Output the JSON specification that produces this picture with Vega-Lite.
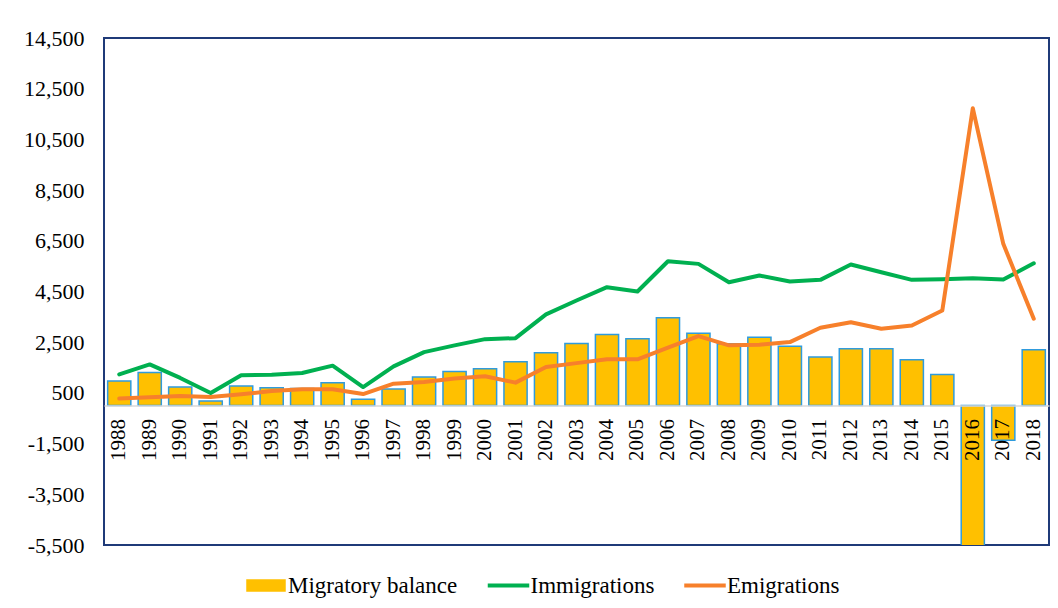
{
  "$schema": "https://vega.github.io/schema/vega-lite/v6.json",
  "width": 945,
  "height": 507,
  "autosize": {"type": "none"},
  "padding": {"left": 104, "top": 38, "right": 9, "bottom": 63},
  "background": "white",
  "config": {"font": "Liberation Serif, Times New Roman, serif", "view": {"stroke": "#1F3A78", "strokeWidth": 2}},
  "datasets": {
    "mig": [
      {"year": "1988", "series": "Migratory balance", "value": 970}, {"year": "1988", "series": "Immigrations", "value": 1230}, {"year": "1988", "series": "Emigrations", "value": 275},
      {"year": "1989", "series": "Migratory balance", "value": 1300}, {"year": "1989", "series": "Immigrations", "value": 1625}, {"year": "1989", "series": "Emigrations", "value": 325},
      {"year": "1990", "series": "Migratory balance", "value": 730}, {"year": "1990", "series": "Immigrations", "value": 1090}, {"year": "1990", "series": "Emigrations", "value": 380},
      {"year": "1991", "series": "Migratory balance", "value": 180}, {"year": "1991", "series": "Immigrations", "value": 495}, {"year": "1991", "series": "Emigrations", "value": 340},
      {"year": "1992", "series": "Migratory balance", "value": 770}, {"year": "1992", "series": "Immigrations", "value": 1195}, {"year": "1992", "series": "Emigrations", "value": 445},
      {"year": "1993", "series": "Migratory balance", "value": 700}, {"year": "1993", "series": "Immigrations", "value": 1220}, {"year": "1993", "series": "Emigrations", "value": 575},
      {"year": "1994", "series": "Migratory balance", "value": 670}, {"year": "1994", "series": "Immigrations", "value": 1285}, {"year": "1994", "series": "Emigrations", "value": 640},
      {"year": "1995", "series": "Migratory balance", "value": 905}, {"year": "1995", "series": "Immigrations", "value": 1575}, {"year": "1995", "series": "Emigrations", "value": 645},
      {"year": "1996", "series": "Migratory balance", "value": 250}, {"year": "1996", "series": "Immigrations", "value": 730}, {"year": "1996", "series": "Emigrations", "value": 455},
      {"year": "1997", "series": "Migratory balance", "value": 655}, {"year": "1997", "series": "Immigrations", "value": 1545}, {"year": "1997", "series": "Emigrations", "value": 865},
      {"year": "1998", "series": "Migratory balance", "value": 1125}, {"year": "1998", "series": "Immigrations", "value": 2110}, {"year": "1998", "series": "Emigrations", "value": 930},
      {"year": "1999", "series": "Migratory balance", "value": 1340}, {"year": "1999", "series": "Immigrations", "value": 2375}, {"year": "1999", "series": "Emigrations", "value": 1065},
      {"year": "2000", "series": "Migratory balance", "value": 1455}, {"year": "2000", "series": "Immigrations", "value": 2620}, {"year": "2000", "series": "Emigrations", "value": 1155},
      {"year": "2001", "series": "Migratory balance", "value": 1730}, {"year": "2001", "series": "Immigrations", "value": 2660}, {"year": "2001", "series": "Emigrations", "value": 905},
      {"year": "2002", "series": "Migratory balance", "value": 2085}, {"year": "2002", "series": "Immigrations", "value": 3595}, {"year": "2002", "series": "Emigrations", "value": 1520},
      {"year": "2003", "series": "Migratory balance", "value": 2450}, {"year": "2003", "series": "Immigrations", "value": 4145}, {"year": "2003", "series": "Emigrations", "value": 1675},
      {"year": "2004", "series": "Migratory balance", "value": 2805}, {"year": "2004", "series": "Immigrations", "value": 4670}, {"year": "2004", "series": "Emigrations", "value": 1825},
      {"year": "2005", "series": "Migratory balance", "value": 2640}, {"year": "2005", "series": "Immigrations", "value": 4500}, {"year": "2005", "series": "Emigrations", "value": 1825},
      {"year": "2006", "series": "Migratory balance", "value": 3465}, {"year": "2006", "series": "Immigrations", "value": 5695}, {"year": "2006", "series": "Emigrations", "value": 2285},
      {"year": "2007", "series": "Migratory balance", "value": 2855}, {"year": "2007", "series": "Immigrations", "value": 5590}, {"year": "2007", "series": "Emigrations", "value": 2740},
      {"year": "2008", "series": "Migratory balance", "value": 2440}, {"year": "2008", "series": "Immigrations", "value": 4865}, {"year": "2008", "series": "Emigrations", "value": 2375},
      {"year": "2009", "series": "Migratory balance", "value": 2700}, {"year": "2009", "series": "Immigrations", "value": 5130}, {"year": "2009", "series": "Emigrations", "value": 2400},
      {"year": "2010", "series": "Migratory balance", "value": 2345}, {"year": "2010", "series": "Immigrations", "value": 4895}, {"year": "2010", "series": "Emigrations", "value": 2505},
      {"year": "2011", "series": "Migratory balance", "value": 1915}, {"year": "2011", "series": "Immigrations", "value": 4960}, {"year": "2011", "series": "Emigrations", "value": 3070},
      {"year": "2012", "series": "Migratory balance", "value": 2245}, {"year": "2012", "series": "Immigrations", "value": 5565}, {"year": "2012", "series": "Emigrations", "value": 3290},
      {"year": "2013", "series": "Migratory balance", "value": 2245}, {"year": "2013", "series": "Immigrations", "value": 5260}, {"year": "2013", "series": "Emigrations", "value": 3030},
      {"year": "2014", "series": "Migratory balance", "value": 1810}, {"year": "2014", "series": "Immigrations", "value": 4960}, {"year": "2014", "series": "Emigrations", "value": 3160},
      {"year": "2015", "series": "Migratory balance", "value": 1230}, {"year": "2015", "series": "Immigrations", "value": 4985}, {"year": "2015", "series": "Emigrations", "value": 3750},
      {"year": "2016", "series": "Migratory balance", "value": -6710}, {"year": "2016", "series": "Immigrations", "value": 5025}, {"year": "2016", "series": "Emigrations", "value": 11730},
      {"year": "2017", "series": "Migratory balance", "value": -1370}, {"year": "2017", "series": "Immigrations", "value": 4970}, {"year": "2017", "series": "Emigrations", "value": 6380},
      {"year": "2018", "series": "Migratory balance", "value": 2205}, {"year": "2018", "series": "Immigrations", "value": 5615}, {"year": "2018", "series": "Emigrations", "value": 3425}
    ]
  },
  "data": {"name": "mig"},
  "encoding": {
    "x": {
      "field": "year", "type": "ordinal",
      "scale": {"paddingInner": 0.24, "paddingOuter": 0.12},
      "axis": {
        "title": null, "orient": "bottom", "offset": -139.4, "labelAngle": -90,
        "labelFont": "Liberation Serif, Times New Roman, serif", "labelFontSize": 21, "labelColor": "black",
        "labelPadding": 13, "ticks": false, "tickSize": 0,
        "domainColor": "#D9D9D9", "domainWidth": 1.5, "zindex": 1
      }
    },
    "y": {
      "field": "value", "type": "quantitative",
      "scale": {"domain": [-5500, 14500], "nice": false},
      "axis": {
        "title": null,
        "values": [-5500, -3500, -1500, 500, 2500, 4500, 6500, 8500, 10500, 12500, 14500],
        "format": ",.0f",
        "labelExpr": "replace(format(datum.value, ',.0f'), '\u2212', '-')",
        "labelFont": "Liberation Serif, Times New Roman, serif", "labelFontSize": 22, "labelColor": "black",
        "labelPadding": 20, "ticks": false, "tickSize": 0, "domain": false, "grid": false
      }
    },
    "color": {
      "field": "series", "type": "nominal",
      "scale": {"domain": ["Migratory balance", "Immigrations", "Emigrations"], "range": ["#FFC000", "#00B050", "#F7802B"]},
      "legend": {
        "orient": "none", "legendX": 141, "legendY": 526.5, "direction": "horizontal", "title": null,
        "labelFont": "Liberation Serif, Times New Roman, serif", "labelFontSize": 23, "labelColor": "black", "labelLimit": 400,
        "symbolSize": 1600, "symbolStrokeWidth": 1.5, "labelOffset": 1, "columnPadding": 27.5,
        "encode": {
          "symbols": {
            "update": {
              "shape": {"signal": "datum.value === 'Migratory balance' ? 'M-0.95,-0.28H0.95V0.28H-0.95Z' : 'M-1,-0.06H1V0.06H-1Z'"},
              "fill": {"signal": "datum.value === 'Migratory balance' ? '#FFC000' : (datum.value === 'Immigrations' ? '#00B050' : '#F7802B')"},
              "stroke": {"signal": "datum.value === 'Migratory balance' ? '#2F9BDD' : (datum.value === 'Immigrations' ? '#00B050' : '#F7802B')"},
              "strokeWidth": {"value": 1.5},
              "opacity": {"value": 1},
              "fillOpacity": {"value": 1},
              "strokeOpacity": {"value": 1}
            }
          }
        }
      }
    }
  },
  "layer": [
    {
      "transform": [{"filter": "datum.series === 'Migratory balance'"}],
      "mark": {"type": "bar", "clip": true, "stroke": "#2F9BDD", "strokeWidth": 1.5}
    },
    {
      "transform": [{"filter": "datum.series !== 'Migratory balance'"}],
      "mark": {"type": "line", "strokeWidth": 4, "strokeJoin": "round", "strokeCap": "round"}
    }
  ]
}
